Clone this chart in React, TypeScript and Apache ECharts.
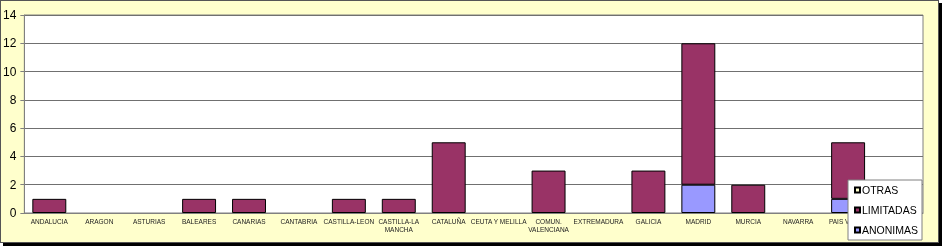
import React, { useEffect, useRef } from "react";
import * as echarts from "echarts";

const categories = [
  "ANDALUCIA", "ARAGON", "ASTURIAS", "BALEARES", "CANARIAS", "CANTABRIA",
  "CASTILLA-LEON", "CASTILLA-LA\nMANCHA", "CATALUÑA", "CEUTA Y MELILLA",
  "COMUN.\nVALENCIANA", "EXTREMADURA", "GALICIA", "MADRID", "MURCIA",
  "NAVARRA", "PAIS VASCO", "LA RIOJA",
];
const anonimas = [0, 0, 0, 0, 0, 0, 0, 0, 0, 0, 0, 0, 0, 2, 0, 0, 1, 0];
const limitadas = [1, 0, 0, 1, 1, 0, 1, 1, 5, 0, 3, 0, 3, 10, 2, 0, 4, 0];
const otras = [0, 0, 0, 0, 0, 0, 0, 0, 0, 0, 0, 0, 0, 0, 0, 0, 0, 0];
const yTicks = { min: 0, max: 14, interval: 2 };
// the last category's label sits under the legend in the reference
const hiddenLabelIndex = 17;

const FONT = "'Liberation Sans', Arial, sans-serif";

export default function App() {
  const ref = useRef<HTMLDivElement>(null);
  useEffect(() => {
    if (!ref.current) return;
    const chart = echarts.init(ref.current, null, { renderer: "svg" });
    const toBars = (arr: number[]) => arr.map((v) => (v === 0 ? null : v));
    const barBase = {
      type: "bar" as const,
      stack: "total",
      barCategoryGap: "32%",
      itemStyle: { borderColor: "#000", borderWidth: 1 },
      emphasis: { disabled: true },
    };
    chart.setOption({
      animation: false,
      textStyle: { fontFamily: FONT },
      grid: {
        left: 24,
        top: 15,
        width: 899,
        height: 198,
        show: true,
        backgroundColor: "#fff",
        borderColor: "#808080",
        borderWidth: 1,
      },
      legend: {
        orient: "vertical",
        left: 848,
        top: 180,
        data: ["OTRAS", "LIMITADAS", "ANONIMAS"],
        backgroundColor: "#fff",
        borderColor: "#808080",
        borderWidth: 1,
        padding: [4, 4, 4, 6],
        itemWidth: 5,
        itemHeight: 5,
        itemGap: 8,
        icon: "rect",
        textStyle: {
          fontSize: 10.5,
          lineHeight: 12,
          color: "#000",
          fontFamily: FONT,
          padding: [0, 0, 0, -3],
        },
        selectedMode: false,
      },
      xAxis: {
        type: "category",
        data: categories,
        axisLine: { lineStyle: { color: "#808080" } },
        axisTick: { show: false },
        axisLabel: {
          interval: 0,
          fontSize: 6.5,
          color: "#222",
          margin: 4,
          lineHeight: 8,
          fontFamily: FONT,
          formatter: (v: string, i: number) => (i === hiddenLabelIndex ? "" : v),
        },
      },
      yAxis: {
        type: "value",
        min: yTicks.min,
        max: yTicks.max,
        interval: yTicks.interval,
        axisLine: { show: true, lineStyle: { color: "#808080" } },
        axisTick: { show: true, length: 4, lineStyle: { color: "#808080" } },
        axisLabel: { fontSize: 12, color: "#000", margin: 8, fontFamily: FONT },
        splitLine: { lineStyle: { color: "#707070", width: 1 } },
      },
      series: [
        { ...barBase, name: "ANONIMAS", data: toBars(anonimas), itemStyle: { ...barBase.itemStyle, color: "#9999FF" } },
        { ...barBase, name: "LIMITADAS", data: toBars(limitadas), itemStyle: { ...barBase.itemStyle, color: "#993366" } },
        { ...barBase, name: "OTRAS", data: toBars(otras), itemStyle: { ...barBase.itemStyle, color: "#FFFFCC" } },
      ],
    });
    return () => chart.dispose();
  }, []);
  return (
    <div style={{ position: "fixed", left: 0, top: 0, width: 944, height: 247 }}>
      <div
        style={{
          position: "absolute",
          left: 0,
          top: 0,
          width: 939,
          height: 243,
          boxSizing: "border-box",
          background: "#FFFFCC",
          border: "1px solid #555",
          boxShadow: "3px 3px 0 #000",
        }}
      />
      <div ref={ref} style={{ position: "absolute", left: 0, top: 0, width: 944, height: 247 }} />
    </div>
  );
}
